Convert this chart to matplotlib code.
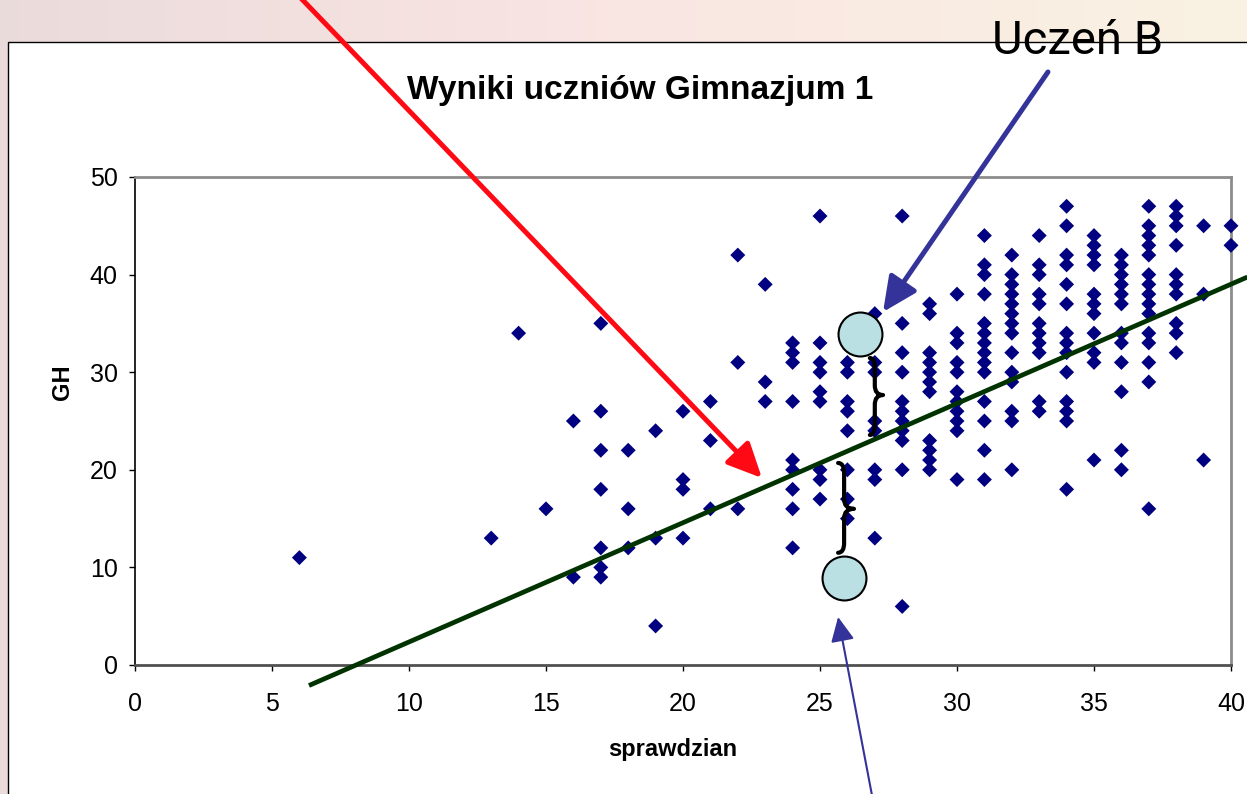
import matplotlib
matplotlib.use('Agg')
import matplotlib.pyplot as plt
import numpy as np
from matplotlib.path import Path
from matplotlib.patches import PathPatch, Rectangle

plt.rcParams['font.family'] = ['Liberation Sans', 'DejaVu Sans']

# ---------------- data ----------------
sprawdzian = (
    [6] + [13] + [14] + [15] + [16] * 2 + [17] * 7 + [18] * 3 + [19] * 3 + [20] * 4 +
    [21] * 3 + [22] * 3 + [23] * 3 + [24] * 9 + [25] * 9 + [26] * 8 + [27] * 8 +
    [28] * 11 + [29] * 11 + [30] * 11 + [31] * 14 + [32] * 14 + [33] * 11 +
    [34] * 14 + [35] * 11 + [36] * 12 + [37] * 15 + [38] * 10 + [39] * 3 + [40] * 2
)
gh = (
    [11] +
    [13] +
    [34] +
    [16] +
    [25, 9] +
    [35, 26, 22, 18, 12, 10, 9] +
    [22, 16, 12] +
    [24, 13, 4] +
    [26, 19, 18, 13] +
    [27, 23, 16] +
    [42, 31, 16] +
    [39, 29, 27] +
    [33, 32, 31, 27, 21, 20, 18, 16, 12] +
    [46, 33, 31, 30, 28, 27, 20, 19, 17] +
    [31, 30, 27, 26, 24, 20, 17, 15] +
    [36, 31, 30, 25, 24, 20, 19, 13] +
    [46, 35, 32, 30, 27, 26, 25, 24, 23, 20, 6] +
    [37, 36, 32, 31, 30, 29, 28, 23, 22, 21, 20] +
    [38, 34, 33, 31, 30, 28, 27, 26, 25, 24, 19] +
    [44, 41, 40, 38, 35, 34, 33, 32, 31, 30, 27, 25, 22, 19] +
    [42, 40, 39, 38, 37, 36, 35, 34, 32, 30, 29, 26, 25, 20] +
    [44, 41, 40, 38, 37, 35, 34, 33, 32, 27, 26] +
    [47, 45, 42, 41, 39, 37, 34, 33, 32, 30, 27, 26, 25, 18] +
    [44, 43, 42, 41, 38, 37, 36, 34, 32, 31, 21] +
    [42, 41, 40, 39, 38, 37, 34, 33, 31, 28, 22, 20] +
    [47, 45, 44, 43, 42, 40, 39, 38, 37, 36, 34, 33, 31, 29, 16] +
    [47, 46, 45, 43, 40, 39, 38, 35, 34, 32] +
    [45, 38, 21] +
    [45, 43]
)

# regression (trend) line end points
trend_x = [6.35, 40.6]
trend_y = [-2.1, 39.75]

# highlighted students (circles)
student_x = [26.46, 25.88]
student_y = [33.9, 8.9]

x_ticks = [0, 5, 10, 15, 20, 25, 30, 35, 40]
y_ticks = [0, 10, 20, 30, 40, 50]

title = 'Wyniki uczniów Gimnazjum 1'
x_title = 'sprawdzian'
y_title = 'GH'
label_b = 'Uczeń B'

# ---------------- figure ----------------
W, H = 1247, 794
fig = plt.figure(figsize=(W / 100, H / 100), dpi=100)

# slide background (soft gradient)
bg = fig.add_axes([0, 0, 1, 1], zorder=-10)
grad = np.linspace(0, 1, 256)
c0 = np.array([0.92, 0.86, 0.86])
c1 = np.array([0.98, 0.90, 0.89])
c2 = np.array([0.98, 0.95, 0.89])
cols = np.where(grad[:, None] < 0.5,
                c0 + (c1 - c0) * (grad[:, None] / 0.5),
                c1 + (c2 - c1) * ((grad[:, None] - 0.5) / 0.5))
bg.imshow(cols[None, :, :], aspect='auto', extent=[0, 1, 0, 1])
bg.set_xlim(0, 1); bg.set_ylim(0, 1)
bg.axis('off')

# white chart area with black border
fig.patches.append(Rectangle((8 / W, -0.02), 1.2, (H - 42) / H + 0.02,
                             transform=fig.transFigure, facecolor='white',
                             edgecolor='black', lw=1.0, zorder=-5))

ax = fig.add_axes([135 / W, 1 - 665 / H, 1096 / W, 488 / H])
ax.set_xlim(0, 40)
ax.set_ylim(0, 50)
ax.set_facecolor('white')

ax.set_xticks(x_ticks)
ax.set_yticks(y_ticks)
ax.tick_params(axis='both', direction='out', length=4.5, width=1.0, colors='black',
               labelsize=18)
ax.tick_params(axis='x', pad=15)
ax.tick_params(axis='y', pad=8)

for side in ['top', 'right']:
    ax.spines[side].set_color('#8c8c8c')
    ax.spines[side].set_linewidth(2.0)
ax.spines['left'].set_color('black')
ax.spines['left'].set_linewidth(1.2)
ax.spines['bottom'].set_color('#505050')
ax.spines['bottom'].set_linewidth(2.0)

ax.set_xlabel(x_title, fontsize=17, fontweight='bold', va='center')
ax.xaxis.set_label_coords(0.491, -0.174)
ax.set_ylabel(y_title, fontsize=17, fontweight='bold', va='center', ha='center')
ax.yaxis.set_label_coords(-0.0657, 0.58)

# scatter points
ax.scatter(sprawdzian, gh, marker='D', s=58, color='#000080', edgecolors='none',
           zorder=3, clip_on=False)

# trend line
ax.plot(trend_x, trend_y, color='#013300', lw=3.4, zorder=4, clip_on=False,
        solid_capstyle='butt')

# student circles
ax.scatter(student_x, student_y, s=1000, facecolor='#BAE0E3', edgecolor='black',
           linewidths=1.5, zorder=6, clip_on=False)


def brace(x_left, x_spine, x_cusp, y_bot, y_top, y_cusp, r=1.0):
    verts = [
        (x_left, y_top), (x_spine, y_top), (x_spine, y_top - r),
        (x_spine, y_cusp + r),
        (x_spine, y_cusp), (x_cusp, y_cusp),
        (x_spine, y_cusp), (x_spine, y_cusp - r),
        (x_spine, y_bot + r),
        (x_spine, y_bot), (x_left, y_bot),
    ]
    codes = [Path.MOVETO, Path.CURVE3, Path.CURVE3, Path.LINETO,
             Path.CURVE3, Path.CURVE3, Path.CURVE3, Path.CURVE3,
             Path.LINETO, Path.CURVE3, Path.CURVE3]
    p = PathPatch(Path(verts, codes), facecolor='none', edgecolor='black', lw=3.0,
                  capstyle='round', joinstyle='round', zorder=7, clip_on=False)
    ax.add_patch(p)


brace(26.82, 27.0, 27.3, 23.57, 31.45, 27.66)
brace(25.66, 25.88, 26.24, 11.5, 20.7, 16.0)

# arrows
ax.annotate('', xy=(22.88, 19.16), xytext=(5.77, 69.16), annotation_clip=False,
            arrowprops=dict(arrowstyle='-|>,head_length=2.1,head_width=0.99',
                            mutation_scale=10, color='#FF0A14', lw=3.6,
                            shrinkA=0, shrinkB=0), zorder=8)
ax.annotate('', xy=(27.30, 36.17), xytext=(33.32, 60.76), annotation_clip=False,
            arrowprops=dict(arrowstyle='-|>,head_length=2.1,head_width=0.99',
                            mutation_scale=10, color='#333399', lw=3.6,
                            shrinkA=0, shrinkB=0), zorder=8)
ax.annotate('', xy=(25.66, 4.92), xytext=(26.93, -13.83), annotation_clip=False,
            arrowprops=dict(arrowstyle='-|>,head_length=1.5,head_width=0.72',
                            mutation_scale=10, color='#333399', lw=1.5,
                            shrinkA=0, shrinkB=0), zorder=8)

# texts
fig.text(640 / W, 1 - 99 / H, title, ha='center', va='baseline', fontsize=24,
         fontweight='bold', color='black')
fig.text(1078 / W, 1 - 53.5 / H, label_b, ha='center', va='baseline', fontsize=34,
         family=['Roboto', 'DejaVu Sans'], color='black', zorder=10)

fig.savefig('out.png', dpi=100)
